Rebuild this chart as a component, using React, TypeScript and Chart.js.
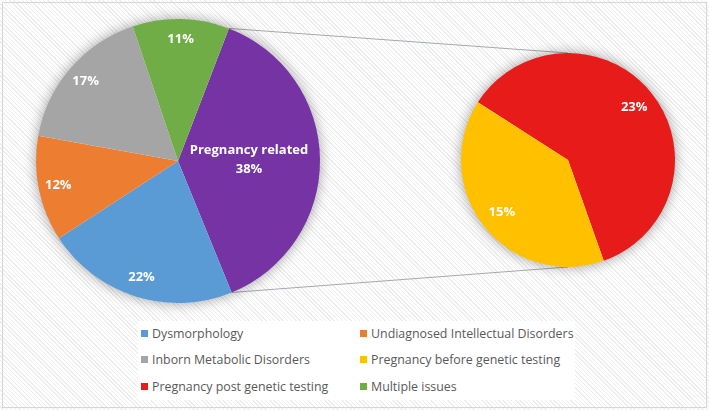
import React, { useEffect, useRef } from 'react';
import { Chart, registerables } from 'chart.js';

Chart.register(...registerables);

// ---- Data ----
const mainLabels = [
  'Pregnancy related',
  'Dysmorphology',
  'Undiagnosed Intellectual Disorders',
  'Inborn Metabolic Disorders',
  'Multiple issues',
];
const mainValues = [38, 22, 12, 17, 11];
const mainColors = ['#7533A3', '#5B9BD5', '#ED7D31', '#A5A5A5', '#70AD47'];

const subLabels = ['Pregnancy post genetic testing', 'Pregnancy before genetic testing'];
const subValues = [23, 15];
const subColors = ['#E81B1B', '#FFC000'];

const legendLabels = [
  'Dysmorphology',
  'Undiagnosed Intellectual Disorders',
  'Inborn Metabolic Disorders',
  'Pregnancy before genetic testing',
  'Pregnancy post genetic testing',
  'Multiple issues',
];
const legendColors = ['#5B9BD5', '#ED7D31', '#A5A5A5', '#FFC000', '#E81B1B', '#70AD47'];

const FONT = "'Open Sans', 'Liberation Sans', sans-serif";

const shadowPlugin = {
  id: 'pieShadow',
  beforeDatasetsDraw(chart: any) {
    const meta = chart.getDatasetMeta(0);
    if (!meta.data.length) return;
    const p = meta.data[0].getProps(['x', 'y', 'outerRadius'], true);
    const ctx = chart.ctx;
    ctx.save();
    ctx.shadowColor = 'rgba(0,0,0,0.4)';
    ctx.shadowBlur = 14;
    ctx.beginPath();
    ctx.arc(p.x, p.y, p.outerRadius - 0.5, 0, Math.PI * 2);
    ctx.fillStyle = '#ffffff';
    ctx.fill();
    ctx.restore();
  },
};

const labelPlugin = {
  id: 'sliceLabels',
  afterDatasetsDraw(chart: any, _args: any, opts: any) {
    const ctx = chart.ctx;
    const meta = chart.getDatasetMeta(0);
    const ds = chart.data.datasets[0];
    ctx.save();
    ctx.fillStyle = '#ffffff';
    ctx.textAlign = 'center';
    ctx.textBaseline = 'middle';
    ctx.font = `bold 13px ${FONT}`;
    meta.data.forEach((arc: any, i: number) => {
      const p = arc.getProps(['x', 'y', 'startAngle', 'endAngle', 'outerRadius'], true);
      const mid = (p.startAngle + p.endAngle) / 2;
      const showName = opts.showName && opts.showName[i];
      const f = showName ? opts.nameFactor : opts.factor;
      const x = p.x + Math.cos(mid) * p.outerRadius * f;
      const y = p.y + Math.sin(mid) * p.outerRadius * f;
      const val = ds.data[i] + '%';
      if (showName) {
        ctx.fillText(chart.data.labels[i], x, y - 9.5);
        ctx.fillText(val, x, y + 9.5);
      } else {
        ctx.fillText(val, x, y);
      }
    });
    ctx.restore();
  },
};

const MAIN = { left: 18, top: 1, size: 320, pad: 18 };
const SUB = { left: 443, top: 35, size: 250, pad: 18 };

export default function App() {
  const mainRef = useRef<HTMLCanvasElement>(null);
  const subRef = useRef<HTMLCanvasElement>(null);
  const lineRef = useRef<HTMLCanvasElement>(null);

  useEffect(() => {
    const common = (pad: number) => ({
      responsive: false,
      maintainAspectRatio: false,
      animation: false as const,
      layout: { padding: pad },
    });

    const main = new Chart(mainRef.current!, {
      type: 'pie',
      data: {
        labels: mainLabels,
        datasets: [{ data: mainValues, backgroundColor: mainColors, borderWidth: 0 }],
      },
      options: {
        ...common(MAIN.pad),
        rotation: 21,
        plugins: {
          legend: { display: false },
          tooltip: { enabled: false },
          sliceLabels: { factor: 0.86, nameFactor: 0.5, showName: [true, false, false, false, false] },
        } as any,
      },
      plugins: [shadowPlugin, labelPlugin],
    });

    const sub = new Chart(subRef.current!, {
      type: 'pie',
      data: {
        labels: subLabels,
        datasets: [{ data: subValues, backgroundColor: subColors, borderWidth: 0 }],
      },
      options: {
        ...common(SUB.pad),
        rotation: -57.4,
        plugins: {
          legend: { display: false },
          tooltip: { enabled: false },
          sliceLabels: { factor: 0.79, nameFactor: 0.5, showName: [false, false] },
        } as any,
      },
      plugins: [shadowPlugin, labelPlugin],
    });

    // connector lines
    const lc = lineRef.current!;
    const ctx = lc.getContext('2d')!;
    ctx.clearRect(0, 0, lc.width, lc.height);
    const a = (main.getDatasetMeta(0).data[0] as any).getProps(
      ['x', 'y', 'startAngle', 'endAngle', 'outerRadius'],
      true
    );
    const b = (sub.getDatasetMeta(0).data[0] as any).getProps(['x', 'y', 'outerRadius'], true);
    const ax = MAIN.left + a.x;
    const ay = MAIN.top + a.y;
    const bx = SUB.left + b.x;
    const by = SUB.top + b.y;
    ctx.strokeStyle = '#a4a9ae';
    ctx.lineWidth = 1;
    ctx.beginPath();
    ctx.moveTo(ax + Math.cos(a.startAngle) * a.outerRadius, ay + Math.sin(a.startAngle) * a.outerRadius);
    ctx.lineTo(bx, by - b.outerRadius);
    ctx.moveTo(ax + Math.cos(a.endAngle) * a.outerRadius, ay + Math.sin(a.endAngle) * a.outerRadius);
    ctx.lineTo(bx, by + b.outerRadius);
    ctx.stroke();

    return () => {
      main.destroy();
      sub.destroy();
    };
  }, []);

  return (
    <div
      style={{
        position: 'absolute',
        left: 0,
        top: 0,
        width: 709,
        height: 410,
        overflow: 'hidden',
        background: 'repeating-linear-gradient(45deg, #ffffff 0px, #ffffff 2px, #ededed 2px, #ededed 3px)',
        fontFamily: FONT,
      }}
    >
      <div
        style={{
          position: 'absolute',
          left: 2,
          top: 2,
          width: 703,
          height: 404,
          border: '1px solid #d6d6d6',
        }}
      />
      <canvas
        ref={lineRef}
        width={709}
        height={410}
        style={{ position: 'absolute', left: 0, top: 0, width: 709, height: 410 }}
      />
      <canvas
        ref={mainRef}
        width={MAIN.size}
        height={MAIN.size}
        style={{ position: 'absolute', left: MAIN.left, top: MAIN.top, width: MAIN.size, height: MAIN.size }}
      />
      <canvas
        ref={subRef}
        width={SUB.size}
        height={SUB.size}
        style={{ position: 'absolute', left: SUB.left, top: SUB.top, width: SUB.size, height: SUB.size }}
      />
      <div
        style={{
          position: 'absolute',
          left: 138,
          top: 321,
          width: 437,
          height: 79,
          background: '#ffffff',
        }}
      >
        {legendLabels.map((lab, i) => (
          <div
            key={lab}
            style={{
              position: 'absolute',
              left: i % 2 === 0 ? 3 : 222,
              top: 4 + Math.floor(i / 2) * 26.5,
              height: 16,
              display: 'flex',
              alignItems: 'center',
              whiteSpace: 'nowrap',
              fontSize: 12.4,
              color: '#595959',
            }}
          >
            <span
              style={{
                display: 'inline-block',
                width: 7,
                height: 7,
                background: legendColors[i],
                marginRight: 4,
              }}
            />
            {lab}
          </div>
        ))}
      </div>
    </div>
  );
}
